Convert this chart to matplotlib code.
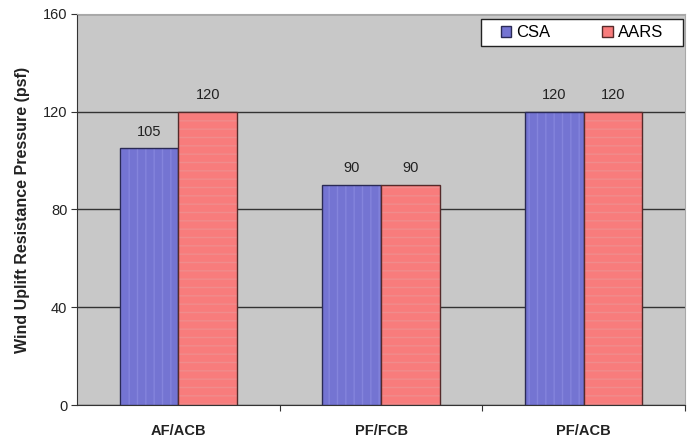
import matplotlib
matplotlib.use('Agg')
import matplotlib.pyplot as plt
from matplotlib.patches import Rectangle
import numpy as np

plt.rcParams['font.family'] = ['Liberation Sans', 'DejaVu Sans']

categories = ['AF/ACB', 'PF/FCB', 'PF/ACB']
csa = [105, 90, 120]
aars = [120, 90, 120]
series_names = ['CSA', 'AARS']

fig = plt.figure(figsize=(6.9, 4.4), dpi=100)
ax = fig.add_axes([77/690, 1 - 405/440, (685 - 77)/690, (405 - 14)/440])
ax.set_facecolor('#c8c8c8')

x = np.arange(len(categories))
w = 0.29
b1 = ax.bar(x - w/2, csa, w, color='#7474d2', edgecolor='#2a2a55', linewidth=1.0,
            label=series_names[0], zorder=3)
b2 = ax.bar(x + w/2, aars, w, color='#f87c7c', edgecolor='#552a2a', linewidth=1.0,
            label=series_names[1], zorder=3)

# faint pattern fill like the old spreadsheet bars
for r in b1:
    r.set_hatch('||')
    r._hatch_color = matplotlib.colors.to_rgba('#8484dc')
for r in b2:
    r.set_hatch('--')
    r._hatch_color = matplotlib.colors.to_rgba('#f08c8c')

for bars, vals in ((b1, csa), (b2, aars)):
    for r, v in zip(bars, vals):
        ax.text(r.get_x() + r.get_width()/2, v + 4, str(v), ha='center', va='bottom',
                fontsize=10.5, color='#222222')

ax.set_xlim(-0.5, 2.5)
ax.set_ylim(0, 160)
ax.set_yticks([0, 40, 80, 120, 160])
ax.set_yticklabels(['0', '40', '80', '120', '160'], fontsize=10.5, color='#222222')
ax.yaxis.grid(True, color='#333333', linewidth=1.0, zorder=1)
ax.set_axisbelow(True)

ax.set_xticks([0.5, 1.5, 2.5], minor=False)
ax.set_xticklabels([])
ax.set_xticks(x, minor=True)
ax.set_xticklabels(categories, minor=True, fontsize=10.5, fontweight='bold', color='#222222')
ax.tick_params(axis='x', which='minor', length=0, pad=14)
ax.tick_params(axis='x', which='major', length=4, direction='out', color='#333333')
ax.tick_params(axis='y', length=4, direction='out', color='#333333', pad=3)

ax.set_ylabel('Wind Uplift Resistance Pressure (psf)', fontsize=11.5, fontweight='bold',
              color='#222222', labelpad=9)

ax.spines['left'].set_color('#333333')
ax.spines['bottom'].set_color('#333333')
ax.spines['top'].set_color('#a8a8a8')
ax.spines['right'].set_color('#a8a8a8')

# legend box drawn separately so the padding matches the original
box = Rectangle((0.664, 0.918), 0.333, 0.069, transform=ax.transAxes, facecolor='white',
                edgecolor='#222222', linewidth=1.0, zorder=5)
ax.add_patch(box)
leg = ax.legend(loc='center', ncol=2, fontsize=12, frameon=False,
                handlelength=0.65, handleheight=0.65, columnspacing=3.1,
                bbox_to_anchor=(0.8305, 0.9525), handletextpad=0.3, borderpad=0)
leg.set_zorder(6)
for h in leg.legend_handles:
    h.set_hatch(None)

fig.savefig('out.png', dpi=100)
